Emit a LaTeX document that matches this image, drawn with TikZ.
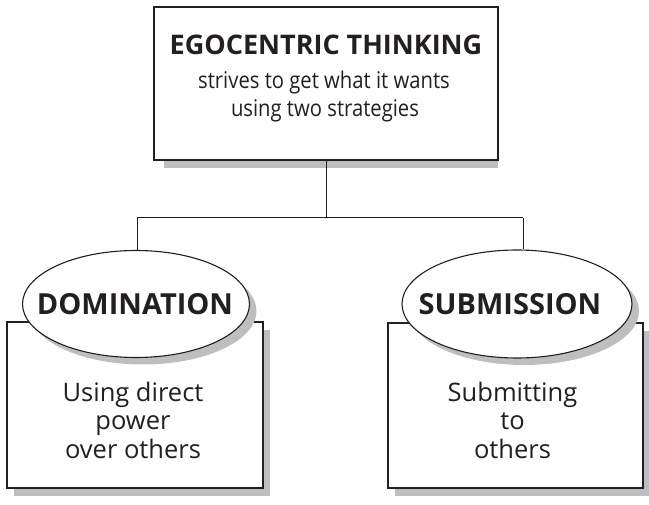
\documentclass[tikz,border=0pt]{standalone}
\usepackage{fontspec}
\setmainfont{Open Sans}
\newfontfamily\condfont[FakeStretch=0.88]{Open Sans}
\usetikzlibrary{shapes.geometric}
\definecolor{shade}{HTML}{BDBEC0}
\definecolor{ink}{HTML}{231F20}
\tikzset{
  boxshape/.style={draw=ink, line width=1.3pt, fill=white, rectangle, inner sep=0pt},
  ovalshape/.style={draw=ink, line width=1.1pt, fill=white, ellipse, inner sep=0pt},
  shadowbox/.style={fill=shade, draw=none, rectangle, inner sep=0pt},
  shadowoval/.style={fill=shade, draw=none, ellipse, inner sep=0pt},
  link/.style={draw=ink, line width=1pt},
  bodytext/.style={text=ink, align=center, font=\fontsize{25.5}{28.5}\selectfont},
  headtext/.style={text=ink, font=\fontsize{29}{30}\selectfont\bfseries},
  subtext/.style={text=ink, anchor=base, font=\condfont\fontsize{23}{28}\selectfont},
}
\begin{document}
\begin{tikzpicture}[x=1pt,y=-1pt]
\useasboundingbox (0,0) rectangle (649,505);
% top box
\node[shadowbox, minimum width=334pt, minimum height=10pt, anchor=north west] (topsh) at (164,158) {};
\node[boxshape, minimum width=344pt, minimum height=153pt] (top) at (326,83.5) {};
\node[text=ink, anchor=base, font=\fontsize{27}{30}\selectfont\bfseries] (title) at (326,54.5) {EGOCENTRIC THINKING};
\node[subtext] (line2) at (324,89) {strives to get what it wants};
\node[subtext] (line3) at (325,117) {using two strategies};
% connectors
\coordinate (j) at (326,218);
\coordinate (jl) at (137,218);
\coordinate (jr) at (523,218);
% left rectangle
\node[shadowbox, minimum width=256pt, minimum height=166pt] (domsh) at (142,413) {};
\node[boxshape, minimum width=256pt, minimum height=166pt] (dombox) at (135,405) {};
\node[bodytext] (domtext) at (133,420) {Using direct\\power\\over others};
% right rectangle
\node[shadowbox, minimum width=255pt, minimum height=165pt] (subsh) at (522.5,413.5) {};
\node[boxshape, minimum width=255pt, minimum height=165pt] (subbox) at (515.5,405.5) {};
\node[bodytext] (subtext) at (512.5,420) {Submitting\\to\\others};
% ellipses
\node[shadowoval, minimum width=227pt, minimum height=107pt] (domovsh) at (143,311) {};
\node[ovalshape, minimum width=227pt, minimum height=107pt] (dom) at (136,304) {};
\node[headtext] at (135,304) (domlabel) {DOMINATION};
\node[shadowoval, minimum width=230pt, minimum height=108pt] (subovsh) at (524,311) {};
\node[ovalshape, minimum width=230pt, minimum height=108pt] (sub) at (517,304) {};
\node[headtext] at (510,304) (sublabel) {SUBMISSION};
% links
\draw[link] (top.south) -- (j);
\draw[link] (jl) -- (jr);
\draw[link] (jl) -- (jl |- dom.north);
\draw[link] (jr) -- (jr |- sub.north);
\end{tikzpicture}
\end{document}
